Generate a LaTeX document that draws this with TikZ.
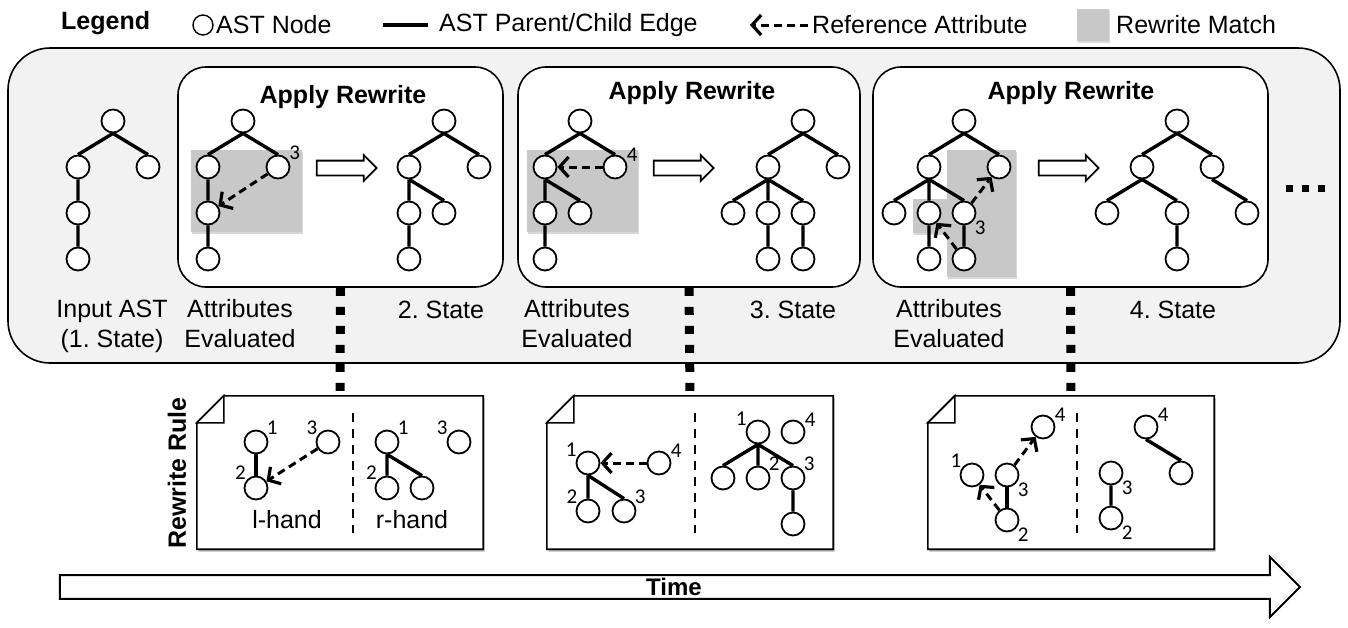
\documentclass[tikz,border=0pt]{standalone}
\usepackage{fontspec}
\setmainfont{Liberation Sans}
\newfontfamily\numfont{Carlito}
\usetikzlibrary{positioning,shapes.arrows,arrows.meta,shadows}
\definecolor{panelgray}{RGB}{242,242,242}
\definecolor{matchgray}{RGB}{200,200,200}
\frenchspacing

\begin{document}
\begin{tikzpicture}[
x=1pt, y=-1pt,
node distance=46pt and 35pt, on grid,
  ast/.style={draw,circle,fill=white,minimum size=23pt,inner sep=0pt,line width=1.8pt},
  tedge/.style={line width=3.4pt},
  refattr/.style={line width=3pt,dash pattern=on 8pt off 5pt,
    -{Straight Barb[length=9pt,width=20pt,line width=3.2pt]}},
  num/.style={font=\numfont\fontsize{21}{21}\selectfont,inner sep=0.5pt},
  txt/.style={font=\fontsize{25}{30}\selectfont,inner sep=0pt},
  title/.style={font=\bfseries\fontsize{25}{30}\selectfont,inner sep=0pt},
  apply/.style={draw,fill=white,rounded corners=28pt,line width=1.6pt,minimum height=220pt},
  rulebox/.style={minimum width=286pt,minimum height=153pt,inner sep=0pt},
  note/.style={draw,fill=white,line width=1.6pt,drop shadow={shadow xshift=1.5pt,shadow yshift=-2.5pt,opacity=0.6}},
  match/.style={fill=matchgray,drop shadow={shadow xshift=1pt,shadow yshift=-2pt,opacity=0.3}},
  hollow/.style={single arrow,draw,fill=white,line width=1.8pt,minimum height=60pt,inner xsep=0pt,inner ysep=6.5pt,single arrow head extend=5.5pt},
  bigarrow/.style={single arrow,draw,fill=white,line width=2pt,minimum height=1240pt,minimum width=60pt,single arrow head extend=15pt,inner sep=0pt,font=\bfseries\fontsize{24}{28}\selectfont},
  dots/.style={line width=9pt,dash pattern=on 8pt off 11pt},
  divider/.style={line width=2.8pt,dash pattern=on 9pt off 7pt}
]
\useasboundingbox (0,0) rectangle (1348,627);

% legend
\node[title,anchor=west] (legend) at (61,23) {Legend};
\node[ast,minimum size=20pt,line width=1.4pt] (lgast) at (203,25) {};
\node[txt,anchor=west] (lgasttxt) at (216,25) {AST Node};
\coordinate (lge0) at (383,25);
\coordinate (lge1) at (428,25);
\draw[tedge] (lge0) -- (lge1);
\node[txt,anchor=west] (lgedgetxt) at (439,25) {AST Parent/Child Edge};
\coordinate (lgr0) at (750,25);
\coordinate (lgr1) at (808,25);
\draw[refattr] (lgr1) -- (lgr0);
\node[txt,anchor=west] (lgreftxt) at (812,25) {Reference Attribute};
\node[match,minimum size=32pt,inner sep=0pt] (lgmatch) at (1093,25) {};
\node[txt,anchor=west] (lgmatchtxt) at (1116,25) {Rewrite Match};

% states panel
\draw[line width=1.6pt,fill=panelgray,rounded corners=42pt] (8,48) rectangle (1340,363);
\node[apply,minimum width=325pt] (apply1) at (340.5,177) {};
\node[apply,minimum width=342pt] (apply2) at (689,177) {};
\node[apply,minimum width=395pt] (apply3) at (1070.5,177) {};
\node[title] (ttl1) at (343,97) {Apply Rewrite};
\node[title] (ttl2) at (692,93) {Apply Rewrite};
\node[title] (ttl3) at (1071,93) {Apply Rewrite};
\fill[match] (191,150) rectangle (302,232);
\fill[match] (527,150) rectangle (638,232);
\fill[match] (913,199) rectangle (947,233);
\fill[match] (947,150) rectangle (1016,277);
\node[hollow] (go1) at (343,168) {};
\node[hollow] (go2) at (680,168) {};
\node[hollow] (go3) at (1065,168) {};

% input AST
\node[ast] (in0) at (113,121) {};
\node[ast,below left=of in0] (in1) {};
\node[ast,below right=of in0] (in2) {};
\node[ast,below=of in1] (in3) {};
\node[ast,below=of in3] (in4) {};
\draw[tedge] (in0.south) -- (in1.north) (in0.south) -- (in2.north)
  (in1.south) -- (in3.north) (in3.south) -- (in4.north);

% first rewrite
\node[ast] (ev0) at (243,121) {};
\node[ast,below left=of ev0] (ev1) {};
\node[ast,below right=of ev0,label={[num]30:3}] (ev2) {};
\node[ast,below=of ev1] (ev3) {};
\node[ast,below=of ev3] (ev4) {};
\draw[tedge] (ev0.south) -- (ev1.north) (ev0.south) -- (ev2.north)
  (ev1.south) -- (ev3.north) (ev3.south) -- (ev4.north);
\draw[refattr] (ev2) -- (ev3);
\node[ast] (sa0) at (444,121) {};
\node[ast,below left=of sa0] (sa1) {};
\node[ast,below right=of sa0] (sa2) {};
\node[ast,below=of sa1] (sa3) {};
\node[ast,below right=of sa1] (sa4) {};
\node[ast,below=of sa3] (sa5) {};
\draw[tedge] (sa0.south) -- (sa1.north) (sa0.south) -- (sa2.north)
  (sa1.south) -- (sa3.north) (sa1.south) -- (sa4.north) (sa3.south) -- (sa5.north);

% second rewrite
\node[ast] (eb0) at (580,121) {};
\node[ast,below left=of eb0] (eb1) {};
\node[ast,below right=of eb0,label={[num]25:4}] (eb2) {};
\node[ast,below=of eb1] (eb3) {};
\node[ast,below right=of eb1] (eb4) {};
\node[ast,below=of eb3] (eb5) {};
\draw[tedge] (eb0.south) -- (eb1.north) (eb0.south) -- (eb2.north)
  (eb1.south) -- (eb3.north) (eb1.south) -- (eb4.north) (eb3.south) -- (eb5.north);
\draw[refattr] (eb2) -- (eb1);
\node[ast] (sb0) at (803,121) {};
\node[ast,below left=of sb0] (sb1) {};
\node[ast,below right=of sb0] (sb2) {};
\node[ast,below left=of sb1] (sb3) {};
\node[ast,below=of sb1] (sb4) {};
\node[ast,below right=of sb1] (sb5) {};
\node[ast,below=of sb4] (sb6) {};
\node[ast,below=of sb5] (sb7) {};
\draw[tedge] (sb0.south) -- (sb1.north) (sb0.south) -- (sb2.north)
  (sb1.south) -- (sb3.north) (sb1.south) -- (sb4.north) (sb1.south) -- (sb5.north)
  (sb4.south) -- (sb6.north) (sb5.south) -- (sb7.north);

% third rewrite
\node[ast] (ec0) at (964,121) {};
\node[ast,below left=of ec0] (ec1) {};
\node[ast,below right=of ec0] (ec2) {};
\node[ast,below left=of ec1] (ec3) {};
\node[ast,below=of ec1] (ec4) {};
\node[ast,below right=of ec1,label={[num]-35:3}] (ec5) {};
\node[ast,below=of ec4] (ec6) {};
\node[ast,below=of ec5] (ec7) {};
\draw[tedge] (ec0.south) -- (ec1.north) (ec0.south) -- (ec2.north)
  (ec1.south) -- (ec3.north) (ec1.south) -- (ec4.north) (ec1.south) -- (ec5.north)
  (ec4.south) -- (ec6.north) (ec5.south) -- (ec7.north);
\draw[refattr] (ec5) -- (ec2);
\draw[refattr] (ec7) -- (ec4);
\node[ast] (sc0) at (1177,121) {};
\node[ast,below left=of sc0] (sc1) {};
\node[ast,below right=of sc0] (sc2) {};
\node[ast,below left=of sc1] (sc3) {};
\node[ast,below right=of sc1] (sc4) {};
\node[ast,below right=of sc2] (sc5) {};
\node[ast,below=of sc4] (sc6) {};
\draw[tedge] (sc0.south) -- (sc1.north) (sc0.south) -- (sc2.north)
  (sc1.south) -- (sc3.north) (sc1.south) -- (sc4.north) (sc2.south) -- (sc5.north)
  (sc4.south) -- (sc6.north);
\draw[line width=7pt,dash pattern=on 7pt off 9pt] (1286,188) -- (1326,188);

% state labels
\node[txt,align=center] (inlbl) at (112,326) {Input AST\\(1. State)};
\node[txt,align=center] (evlbl1) at (240,324) {Attributes\\Evaluated};
\node[txt,align=center] (evlbl2) at (577,324) {Attributes\\Evaluated};
\node[txt,align=center] (evlbl3) at (949,324) {Attributes\\Evaluated};
\node[txt] (st2) at (441,310) {2. State};
\node[txt] (st3) at (793,310) {3. State};
\node[txt] (st4) at (1173,310) {4. State};

% rewrite rules
\node[rulebox] (rule1) at (340,472.5) {};
\node[rulebox] (rule2) at (690,472.5) {};
\node[rulebox] (rule3) at (1071,472.5) {};
\draw[dots] (apply1.south) -- (rule1.north);
\draw[dots] (apply2.south) -- (rule2.north);
\draw[dots] (apply3.south) -- (rule3.north);
\foreach \r in {rule1,rule2,rule3} {
  \draw[note] ([xshift=27pt]\r.north west) -- (\r.north east) -- (\r.south east)
    -- (\r.south west) -- ([yshift=-27pt]\r.north west) -- cycle;
  \draw[line width=1.6pt,fill=white] ([xshift=27pt]\r.north west)
    -- ([xshift=27pt,yshift=-27pt]\r.north west) -- ([yshift=-27pt]\r.north west) -- cycle;
}
\draw[divider] ([xshift=13pt,yshift=-17pt]rule1.north) -- ([xshift=13pt,yshift=16pt]rule1.south);
\draw[divider] ([xshift=5pt,yshift=-17pt]rule2.north) -- ([xshift=5pt,yshift=16pt]rule2.south);
\draw[divider] ([xshift=6pt,yshift=-17pt]rule3.north) -- ([xshift=6pt,yshift=16pt]rule3.south);
\node[title,rotate=90] (rulelbl) at (177,473) {Rewrite Rule};

\node[ast,label={[num]35:1}] (L1) at (256,442) {};
\node[ast,below=of L1,label={[num]140:2}] (L2) {};
\node[ast,right=72pt of L1,label={[num]145:3}] (L3) {};
\draw[tedge] (L1.south) -- (L2.north);
\draw[refattr] (L3) -- (L2);
\node[ast,label={[num]35:1}] (R1) at (387,442) {};
\node[ast,below=of R1,label={[num]140:2}] (R2) {};
\node[ast,below right=of R1] (R5) {};
\node[ast,right=72pt of R1,label={[num]150:3}] (R3) {};
\draw[tedge] (R1.south) -- (R2.north) (R1.south) -- (R5.north);
\node[txt] (lhand) at (287,520) {l-hand};
\node[txt] (rhand) at (412,520) {r-hand};

\node[ast,label={[num]150:1}] (M1) at (588,463) {};
\node[ast,below=48pt of M1,label={[num]145:2}] (M2) {};
\node[ast,below right=48pt and 36pt of M1,label={[num]35:3}] (M3) {};
\node[ast,right=71pt of M1,label={[num]25:4}] (M4) {};
\draw[tedge] (M1.south) -- (M2.north) (M1.south) -- (M3.north);
\draw[refattr] (M4) -- (M1);
\node[ast,label={[num]150:1}] (N1) at (758,432) {};
\node[ast,right=of N1,label={[num]25:4}] (N4) {};
\node[ast,below left=of N1] (N5) {};
\node[ast,below=of N1,label={[num]35:2}] (N2) {};
\node[ast,below right=of N1,label={[num]35:3}] (N3) {};
\node[ast,below=of N3] (N6) {};
\draw[tedge] (N1.south) -- (N5.north) (N1.south) -- (N2.north)
  (N1.south) -- (N3.north) (N3.south) -- (N6.north);

\node[ast,label={[num]145:1}] (P1) at (972,475) {};
\node[ast,right=of P1,label={[num]-35:3}] (P3) {};
\node[ast,below=45pt of P3,label={[num]-35:2}] (P2) {};
\node[ast,above right=48pt and 36pt of P3,label={[num]25:4}] (P4) {};
\draw[tedge] (P3.south) -- (P2.north);
\draw[refattr] (P2) -- (P1);
\draw[refattr] (P3) -- (P4);
\node[ast,label={[num]25:4}] (Q4) at (1146,427) {};
\node[ast,below right=of Q4] (Q5) {};
\node[ast,below left=of Q4,label={[num]-35:3}] (Q3) {};
\node[ast,below=45pt of Q3,label={[num]-35:2}] (Q2) {};
\draw[tedge] (Q4.south) -- (Q5.north) (Q3.south) -- (Q2.north);

% time
\node[bigarrow] (time) at (674,587) {Time};
\end{tikzpicture}
\end{document}
